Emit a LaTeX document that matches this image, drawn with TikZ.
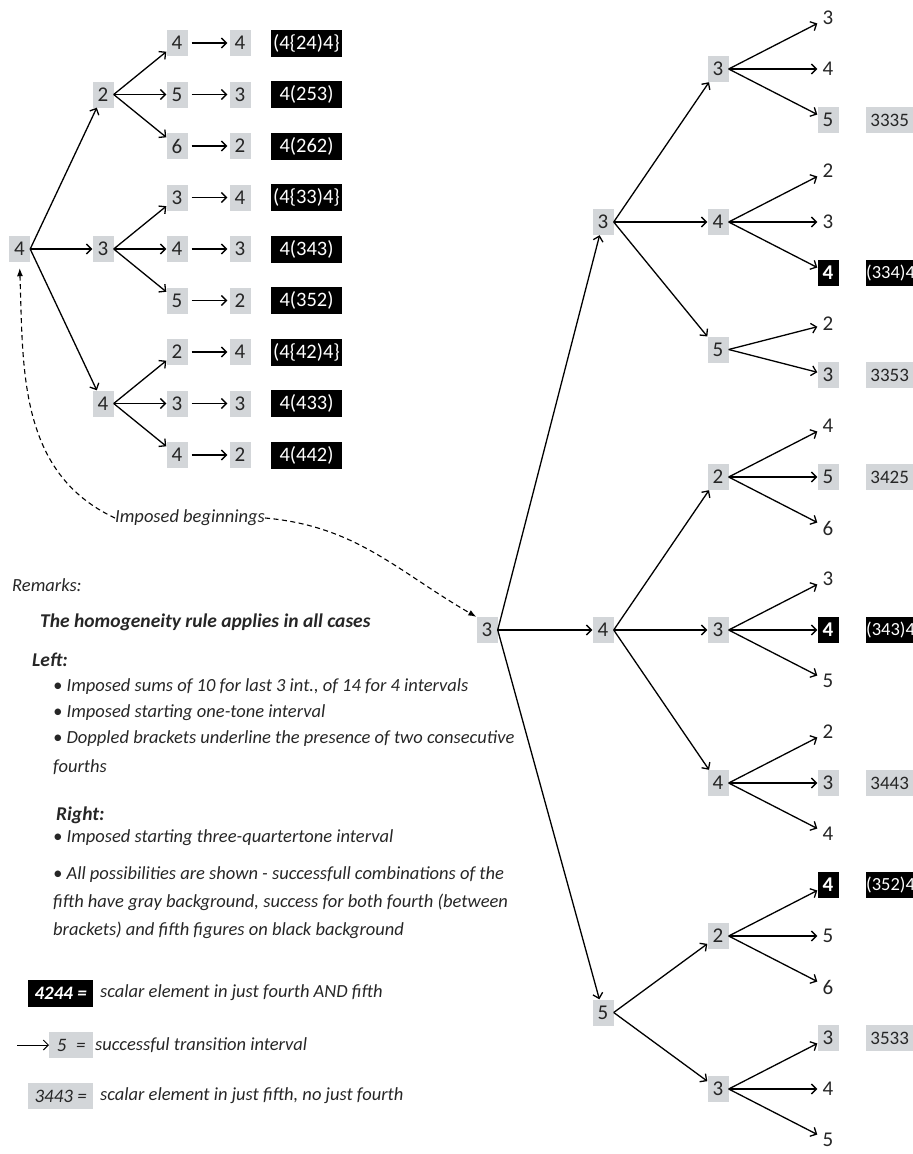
\documentclass[tikz,border=0pt]{standalone}
\usepackage{fontspec}
\setmainfont{Carlito}
\usetikzlibrary{arrows.meta}
\definecolor{boxgray}{RGB}{211,214,217}
\definecolor{ink}{RGB}{38,38,38}
\tikzset{
  lf/.style={minimum width=21pt,minimum height=26pt,inner sep=0pt,text=ink,font=\fontsize{21}{21}\selectfont},
  leafn/.style={lf},
  leafg/.style={lf,fill=boxgray},
  leafk/.style={lf,fill=black,text=white,font=\fontsize{21}{21}\selectfont\bfseries},
  gb/.style={leafg},
  lab/.style={fill=black,text=white,minimum width=71pt,minimum height=27pt,inner sep=0pt,font=\fontsize{20.5}{20.5}\selectfont},
  arr/.style={-{Straight Barb[length=5pt,width=10pt]},line width=1.3pt},
  dsh/.style={dash pattern=on 5pt off 3.5pt,line width=1.1pt,-{Latex[length=8pt,width=6pt]}},
  rem/.style={anchor=west,inner sep=0pt,text=ink,font=\fontsize{18.5}{18.5}\selectfont\itshape},
  remb/.style={rem,font=\fontsize{19.5}{19.5}\selectfont\bfseries\itshape},
}
\begin{document}
\begin{tikzpicture}[x=1pt,y=-1pt]
  \useasboundingbox (0,0) rectangle (913,1154);
  % left tree
  \node[gb] (r) at (19.5,249) {4};
  \node[gb] (a1) at (103,94.5) {2};
  \node[gb] (a2) at (103,249) {3};
  \node[gb] (a3) at (103,403.5) {4};
  \foreach \n in {1,2,3} \draw[arr] (r.east) -- (a\n);
  \foreach \i/\p/\u/\v/\lb in {0/1/4/4/{(4\{24)4\}},1/1/5/3/{4(253)},2/1/6/2/{4(262)},
      3/2/3/4/{(4\{33)4\}},4/2/4/3/{4(343)},5/2/5/2/{4(352)},
      6/3/2/4/{(4\{42)4\}},7/3/3/3/{4(433)},8/3/4/2/{4(442)}}{
    \node[gb] (b\i) at (177,43+51.5*\i) {\u};
    \node[gb] (c\i) at (240,43+51.5*\i) {\v};
    \node[lab] (d\i) at (306.5,43+51.5*\i) {\lb};
    \draw[arr] (a\p.east) -- (b\i);
    \draw[arr,shorten <=4pt,shorten >=2pt] (b\i) -- (c\i);
  }
  % right tree
  \node[gb] (s) at (487,630) {3};
  \node[gb] (t3) at (603,222) {3};
  \node[gb] (t4) at (603,630) {4};
  \node[gb] (t5) at (603,1012.5) {5};
  \foreach \n in {3,4,5} \draw[arr] (s.east) -- (t\n);
  \foreach \j/\p/\k/\d in {1/3/1/3,2/3/4/4,3/3/6.5/5,4/4/9/2,5/4/12/3,6/4/15/4,7/5/18/2,8/5/21/3}{
    \node[gb] (u\j) at (718,18+51*\k) {\d};
    \draw[arr] (t\p.east) -- (u\j);
  }
  \foreach \k/\p/\d/\s in {0/1/3/n,1/1/4/n,2/1/5/g,3/2/2/n,4/2/3/n,5/2/4/k,6/3/2/n,7/3/3/g,
      8/4/4/n,9/4/5/g,10/4/6/n,11/5/3/n,12/5/4/k,13/5/5/n,14/6/2/n,15/6/3/g,16/6/4/n,
      17/7/4/k,18/7/5/n,19/7/6/n,20/8/3/g,21/8/4/n,22/8/5/n}{
    \node[leaf\s] (v\k) at (828,18+51*\k) {\d};
    \draw[arr] (u\p.east) -- (v\k);
  }
  \foreach \k/\lb in {2/3335,7/3353,9/3425,15/3443,20/3533}
    \node[gb,anchor=west,minimum width=47pt,font=\fontsize{19}{19}\selectfont] (w\k) at (866,18+51*\k) {\lb};
  \foreach \k/\lb in {5/(334)4,12/(343)4,17/(352)4}
    \node[lab,anchor=west,minimum width=47pt,minimum height=26pt,font=\fontsize{18.5}{18.5}\selectfont] (w\k) at (866,18+51*\k) {\lb};
  % imposed beginnings
  \node[rem] (ib) at (115,518) {Imposed beginnings};
  \draw[dsh,shorten >=6pt] (ib.west) to[out=155,in=-88] (r.south);
  \draw[dsh] (ib.east) to[out=-5,in=150] (s.north west);
  % remarks
  \node[rem] (m0) at (12,585) {Remarks:};
  \node[remb] (m1) at (40,622) {The homogeneity rule applies in all cases};
  \node[remb] (m2) at (32,660) {Left:};
  \node[rem] (m3) at (53,687) {• Imposed sums of 10 for last 3 int., of 14 for 4 intervals};
  \node[rem] (m4) at (53,713) {• Imposed starting one-tone interval};
  \node[rem] (m5) at (53,739) {• Doppled brackets underline the presence of two consecutive};
  \node[rem] (m6) at (53,767) {fourths};
  \node[remb] (m7) at (56,815) {Right:};
  \node[rem] (m8) at (53,838) {• Imposed starting three-quartertone interval};
  \node[rem] (m9) at (53,875) {• All possibilities are shown - successfull combinations of the};
  \node[rem] (m10) at (53,902) {fifth have gray background, success for both fourth (between};
  \node[rem] (m11) at (53,930) {brackets) and fifth figures on black background};
  % legend
  \node[lab,anchor=west,minimum width=65pt,font=\fontsize{19}{19}\selectfont\bfseries\itshape] (k1) at (28,993) {4244 =};
  \node[rem] (k1t) at (100,993) {scalar element in just fourth AND fifth};
  \coordinate (k2a) at (17,1045);
  \node[gb,anchor=west,minimum width=44pt,font=\fontsize{19}{19}\selectfont\itshape] (k2) at (49,1045) {5\enspace=};
  \draw[arr,line width=1pt] (k2a) -- (k2.west);
  \node[rem] (k2t) at (95,1045) {successful transition interval};
  \node[gb,anchor=west,minimum width=65pt,font=\fontsize{19}{19}\selectfont\itshape] (k3) at (28,1096) {3443 =};
  \node[rem] (k3t) at (100,1096) {scalar element in just fifth, no just fourth};
\end{tikzpicture}
\end{document}
